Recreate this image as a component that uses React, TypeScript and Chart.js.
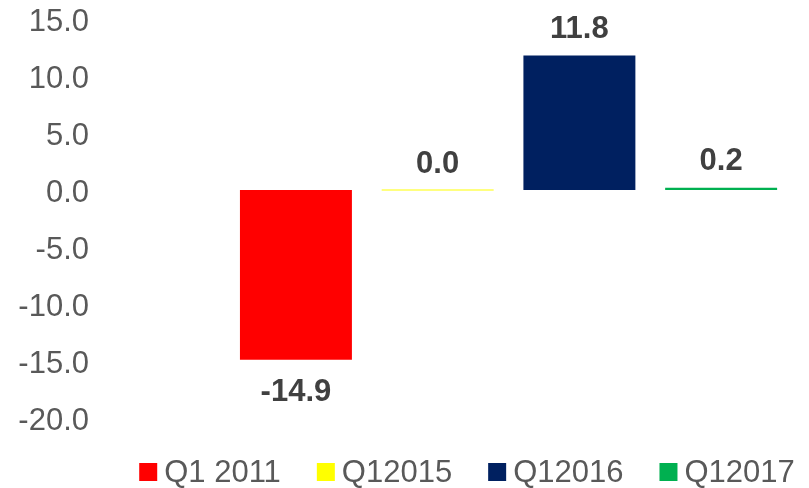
import React, { useEffect, useRef } from "react";
import { Chart, registerables } from "chart.js";

Chart.register(...registerables);

const seriesNames = ["Q1 2011", "Q12015", "Q12016", "Q12017"];
const seriesValues = [-14.9, 0.0, 11.8, 0.2];
const seriesColors = ["#FF0000", "#FFFF00", "#002060", "#00B050"];
const seriesPositions = [1, 2, 3, 4];
const yMin = -20;
const yMax = 15;
const yStep = 5;

const FONT = '"Liberation Sans", Arial, Helvetica, sans-serif';

const valueLabelPlugin = {
  id: "valueLabels",
  afterDatasetsDraw(chart: any) {
    const ctx = chart.ctx;
    ctx.save();
    ctx.font = `bold 31px ${FONT}`;
    ctx.fillStyle = "#404040";
    ctx.textAlign = "center";
    ctx.textBaseline = "middle";
    chart.data.datasets.forEach((ds: any, i: number) => {
      const meta = chart.getDatasetMeta(i);
      ds.data.forEach((pt: any, j: number) => {
        const v = pt.y;
        const el = meta.data[j];
        if (!el) return;
        const y = v >= 0 ? el.y - 26 : el.y + 33;
        ctx.fillText(Number(v).toFixed(1), el.x, y);
      });
    });
    ctx.restore();
  },
};

const legendPlugin = {
  id: "customLegend",
  afterDraw(chart: any) {
    const ctx = chart.ctx;
    ctx.save();
    ctx.font = `31px ${FONT}`;
    ctx.textBaseline = "middle";
    ctx.textAlign = "left";
    const box = 18;
    const gap = 7;
    const itemGap = 36;
    const widths = seriesNames.map((n) => ctx.measureText(n).width);
    const total =
      widths.reduce((s, w) => s + box + gap + w, 0) + itemGap * (seriesNames.length - 1);
    let x = 467 - total / 2;
    const y = 473;
    seriesNames.forEach((name, i) => {
      ctx.fillStyle = seriesColors[i];
      ctx.fillRect(x, y - box / 2 - 1, box, box);
      ctx.fillStyle = "#595959";
      ctx.fillText(name, x + box + gap, y);
      x += box + gap + widths[i] + itemGap;
    });
    ctx.restore();
  },
};

export default function App() {
  const canvasRef = useRef<HTMLCanvasElement | null>(null);

  useEffect(() => {
    if (!canvasRef.current) return;
    const datasets = seriesNames.map((name, i) => ({
      label: name,
      data: [{ x: seriesPositions[i], y: seriesValues[i] }],
      backgroundColor: seriesColors[i],
      borderWidth: 0,
      minBarLength: 1,
    }));
    const chart = new Chart(canvasRef.current, {
      type: "bar",
      data: { datasets },
      options: {
        animation: false,
        responsive: true,
        maintainAspectRatio: false,
        grouped: false,
        categoryPercentage: 0.79,
        barPercentage: 1,
        layout: { padding: { top: 19, bottom: 70, left: 0, right: 17 } },
        plugins: {
          legend: { display: false },
          tooltip: { enabled: false },
        },
        scales: {
          x: {
            type: "linear",
            display: false,
            offset: false,
            min: -0.46,
            max: 4.5,
            grid: { display: false },
            afterBuildTicks: (s: any) => {
              s.ticks = seriesPositions.map((v) => ({ value: v }));
            },
          },
          y: {
            min: yMin,
            max: yMax,
            grid: { display: false, drawTicks: false },
            border: { display: false },
            afterFit: (s: any) => {
              s.width = 89;
            },
            ticks: {
              stepSize: yStep,
              padding: 0,
              labelOffset: 3,
              color: "#595959",
              font: { family: FONT, size: 31 },
              callback: (v: any) => Number(v).toFixed(1),
            },
          },
        },
      } as any,
      plugins: [valueLabelPlugin, legendPlugin],
    });
    return () => chart.destroy();
  }, []);

  return (
    <div style={{ position: "absolute", left: 0, top: 0, width: 809, height: 488, background: "#fff" }}>
      <canvas ref={canvasRef} />
    </div>
  );
}
